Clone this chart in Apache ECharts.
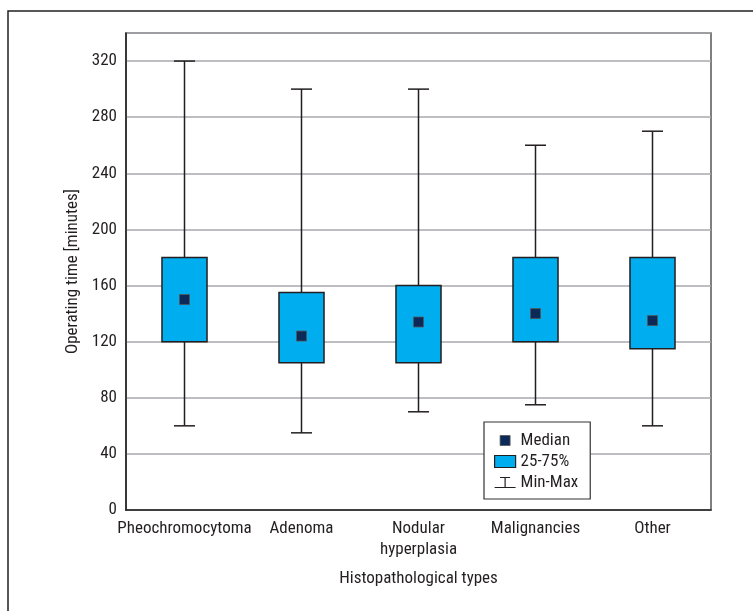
<!DOCTYPE html>
<html><head><meta charset="utf-8">
<script src="https://cdn.jsdelivr.net/npm/echarts@6/dist/echarts.min.js"></script>
<style>html,body{margin:0;padding:0;background:#fff}#c{width:753px;height:611px}</style>
</head><body><div id="c"></div>
<script>
// ---- data ----
const categories = ['Pheochromocytoma', 'Adenoma', 'Nodular\nhyperplasia', 'Malignancies', 'Other'];
const minValues    = [60, 55, 70, 75, 60];
const q1Values     = [120, 105, 105, 120, 115];
const medianValues = [150, 124, 134, 140, 135];
const q3Values     = [180, 155, 160, 180, 180];
const maxValues    = [320, 300, 300, 260, 270];
const yAxisMin = 0, yAxisMax = 340, yAxisStep = 40;
const seriesNames = ['Median', '25-75%', 'Min-Max'];
const xAxisTitle = 'Histopathological types';
const yAxisTitle = 'Operating time [minutes]';

const FONT = '"Roboto Condensed", "DejaVu Sans Condensed", sans-serif';
const FS = 17;
const TXT = '#231f20';
const LINE = '#231f20';
const BOX = '#00adef';
const MED = '#0c2a58';

const chart = echarts.init(document.getElementById('c'), null, { renderer: 'canvas' });

const whiskerData = categories.map((c, i) => [i, minValues[i], maxValues[i]]);
const boxData = categories.map((c, i) => [i, q1Values[i], q3Values[i]]);
const medianData = categories.map((c, i) => [i, medianValues[i]]);

chart.setOption({
  backgroundColor: '#fff',
  animation: false,
  textStyle: { fontFamily: FONT, color: TXT },
  graphic: [{
    type: 'rect', silent: true, z: -10,
    shape: { x: 8, y: 11, width: 800, height: 700 },
    style: { fill: 'none', stroke: '#231f20', lineWidth: 1.5 }
  }],
  grid: {
    left: 126, right: 42, top: 33, bottom: 101,
    show: true, borderColor: '#555', borderWidth: 1.5, backgroundColor: 'transparent'
  },
  legend: {
    orient: 'vertical',
    left: 484, top: 422,
    padding: [10, 12, 8, 10],
    itemGap: 4,
    itemWidth: 21, itemHeight: 12,
    itemTextGap: 9,
    backgroundColor: '#fff',
    borderColor: '#333', borderWidth: 1.2,
    selectedMode: false,
    textStyle: { fontFamily: FONT, fontSize: FS, color: TXT },
    data: [
      { name: seriesNames[0], icon: 'path://M0,0M21,12M5.5,1h10v10h-10z',
        itemStyle: { color: MED, borderColor: '#555', borderWidth: 0.8 } },
      { name: seriesNames[1], icon: 'rect',
        itemStyle: { color: BOX, borderColor: LINE, borderWidth: 1.2 } },
      { name: seriesNames[2], icon: 'path://M0,0M21,12M10.5,1V11M5.5,1H15.5M0,11H21',
        itemStyle: { color: 'transparent', borderColor: LINE, borderWidth: 1.2 } }
    ]
  },
  xAxis: {
    type: 'category',
    data: categories,
    name: xAxisTitle,
    nameLocation: 'middle',
    nameGap: 60,
    nameTextStyle: { fontFamily: FONT, fontSize: FS, color: TXT },
    axisLine: { lineStyle: { color: LINE, width: 1.5 } },
    axisTick: { show: false },
    splitLine: { show: false },
    axisLabel: { fontFamily: FONT, fontSize: FS, color: TXT, margin: 8, lineHeight: 21, interval: 0 }
  },
  yAxis: {
    type: 'value',
    min: yAxisMin, max: yAxisMax, interval: yAxisStep,
    name: yAxisTitle,
    nameLocation: 'middle',
    nameGap: 45,
    nameTextStyle: { fontFamily: FONT, fontSize: FS, color: TXT },
    axisLine: { show: true, lineStyle: { color: LINE, width: 1.5 } },
    axisTick: { show: false },
    axisLabel: { fontFamily: FONT, fontSize: FS, color: TXT, margin: 9, showMaxLabel: false },
    splitLine: { show: true, lineStyle: { color: '#a7a9ac', width: 1.5 } }
  },
  series: [
    {
      name: seriesNames[2],
      type: 'custom',
      data: whiskerData,
      encode: { x: 0, y: [1, 2] },
      z: 3,
      renderItem(params, api) {
        const x = api.value(0);
        const pMin = api.coord([x, api.value(1)]);
        const pMax = api.coord([x, api.value(2)]);
        const band = api.size([1, 0])[0];
        const cap = band * 0.18;
        const st = { stroke: LINE, lineWidth: 1.5 };
        return { type: 'group', children: [
          { type: 'line', shape: { x1: pMin[0], y1: pMin[1], x2: pMax[0], y2: pMax[1] }, style: st },
          { type: 'line', shape: { x1: pMin[0] - cap / 2, y1: pMin[1], x2: pMin[0] + cap / 2, y2: pMin[1] }, style: st },
          { type: 'line', shape: { x1: pMax[0] - cap / 2, y1: pMax[1], x2: pMax[0] + cap / 2, y2: pMax[1] }, style: st }
        ]};
      }
    },
    {
      name: seriesNames[1],
      type: 'custom',
      data: boxData,
      encode: { x: 0, y: [1, 2] },
      z: 4,
      renderItem(params, api) {
        const x = api.value(0);
        const pLo = api.coord([x, api.value(1)]);
        const pHi = api.coord([x, api.value(2)]);
        const band = api.size([1, 0])[0];
        const w = band * 0.385;
        return {
          type: 'rect',
          shape: { x: pLo[0] - w / 2, y: pHi[1], width: w, height: pLo[1] - pHi[1] },
          style: { fill: BOX, stroke: LINE, lineWidth: 1.5 }
        };
      }
    },
    {
      name: seriesNames[0],
      type: 'scatter',
      data: medianData,
      symbol: 'rect',
      symbolSize: 10,
      z: 5,
      itemStyle: { color: MED, borderColor: '#555', borderWidth: 0.8, opacity: 1 }
    }
  ]
});
</script>
</body></html>
